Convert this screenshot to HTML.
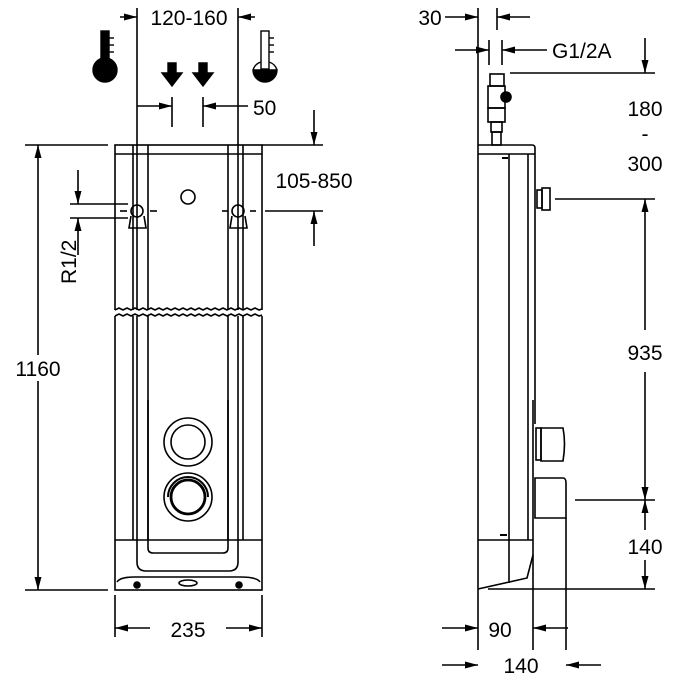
<!DOCTYPE html>
<html><head><meta charset="utf-8"><style>
html,body{margin:0;padding:0;background:#fff;}
svg{display:block;}
text{font-family:"Liberation Sans",sans-serif;font-size:21px;fill:#000;}
</style></head><body>
<svg width="700" height="700" viewBox="0 0 700 700" xmlns="http://www.w3.org/2000/svg">
<defs>
<marker id="a" viewBox="0 0 13 7" refX="13" refY="3.5" markerWidth="13" markerHeight="7" orient="auto" markerUnits="userSpaceOnUse"><path d="M0,0L13,3.5L0,7z" fill="#000"/></marker>
</defs>
<g stroke="#000" stroke-width="1.6" fill="none">
<!-- FRONT VIEW -->
<rect x="115" y="145" width="147" height="445"/>
<line x1="115" y1="154" x2="262" y2="154"/>
<line x1="133" y1="145" x2="133" y2="540"/>
<line x1="137" y1="8" x2="137" y2="540"/>
<line x1="148" y1="145" x2="148" y2="540"/>
<line x1="228" y1="145" x2="228" y2="540"/>
<line x1="238" y1="8" x2="238" y2="540"/>
<line x1="243" y1="145" x2="243" y2="540"/>
<!-- wavy break -->
<rect x="114" y="310" width="150" height="6" fill="#fff" stroke="none"/>
<path d="M115,310 l4,-2 l4,2 l4,-2 l4,2 l4,-2 l4,2 l4,-2 l4,2 l4,-2 l4,2 l4,-2 l4,2 l4,-2 l4,2 l4,-2 l4,2 l4,-2 l4,2 l4,-2 l4,2 l4,-2 l4,2 l4,-2 l4,2 l4,-2 l4,2 l4,-2 l4,2 l4,-2 l4,2 l4,-2 l4,2 l4,-2 l4,2 l4,-2 l4,2 l3,-1"/>
<path d="M115,316 l4,-2 l4,2 l4,-2 l4,2 l4,-2 l4,2 l4,-2 l4,2 l4,-2 l4,2 l4,-2 l4,2 l4,-2 l4,2 l4,-2 l4,2 l4,-2 l4,2 l4,-2 l4,2 l4,-2 l4,2 l4,-2 l4,2 l4,-2 l4,2 l4,-2 l4,2 l4,-2 l4,2 l4,-2 l4,2 l4,-2 l4,2 l4,-2 l4,2 l3,-1"/>
<circle cx="188" cy="197" r="7"/>
<!-- fittings -->
<circle cx="137" cy="211" r="6"/>
<circle cx="238" cy="211" r="6"/>
<path d="M131,216 L129,228 L146,228 L144,216"/>
<path d="M232,216 L230,228 L247,228 L245,216"/>
<line x1="120" y1="211" x2="127" y2="211"/>
<line x1="150" y1="211" x2="157" y2="211"/>
<line x1="222" y1="211" x2="228" y2="211"/>
<line x1="250" y1="211" x2="256" y2="211"/>
<!-- controls -->
<circle cx="188" cy="442" r="24"/>
<circle cx="188" cy="442" r="17"/>
<circle cx="188" cy="497" r="24"/>
<circle cx="188" cy="497" r="17" stroke-width="2.8"/>
<path d="M168,497 A20,20 0 0 1 208,497" stroke-width="2"/>
<!-- lower -->
<line x1="115" y1="540" x2="262" y2="540"/>
<path d="M148,400 L148,548 Q148,553 153,553 L223,553 Q228,553 228,548 L228,400"/>
<path d="M137,540 L137,562 Q137,571 146,571 L229,571 Q238,571 238,562 L238,540"/>
<path d="M117,582 Q120,577 135,577 L240,577 Q257,577 260,582"/>
<ellipse cx="188" cy="583" rx="9" ry="3"/>
<circle cx="137" cy="585" r="3" fill="#000"/>
<circle cx="239" cy="585" r="3" fill="#000"/>
<!-- dims front -->
<line x1="120" y1="17" x2="137" y2="17" marker-end="url(#a)"/>
<line x1="255" y1="17" x2="238" y2="17" marker-end="url(#a)"/>
<line x1="172" y1="97" x2="172" y2="127"/>
<line x1="203" y1="97" x2="203" y2="127"/>
<line x1="137" y1="106" x2="172" y2="106" marker-end="url(#a)"/>
<line x1="248" y1="106" x2="203" y2="106" marker-end="url(#a)"/>
<line x1="108" y1="145" x2="25" y2="145"/>
<line x1="108" y1="590" x2="25" y2="590"/>
<line x1="38" y1="355" x2="38" y2="145" marker-end="url(#a)"/>
<line x1="38" y1="380" x2="38" y2="590" marker-end="url(#a)"/>
<line x1="262" y1="145" x2="323" y2="145"/>
<line x1="265" y1="211" x2="323" y2="211"/>
<line x1="314" y1="110" x2="314" y2="145" marker-end="url(#a)"/>
<line x1="314" y1="246" x2="314" y2="211" marker-end="url(#a)"/>
<line x1="70" y1="204" x2="128" y2="204"/>
<line x1="70" y1="218" x2="128" y2="218"/>
<line x1="78" y1="170" x2="78" y2="204" marker-end="url(#a)"/>
<line x1="78" y1="255" x2="78" y2="218" marker-end="url(#a)"/>
<line x1="115" y1="595" x2="115" y2="637"/>
<line x1="262" y1="595" x2="262" y2="637"/>
<line x1="150" y1="628" x2="115" y2="628" marker-end="url(#a)"/>
<line x1="226" y1="628" x2="262" y2="628" marker-end="url(#a)"/>
<!-- SIDE VIEW -->
<line x1="478" y1="8" x2="478" y2="650"/>
<line x1="497" y1="8" x2="497" y2="30"/>
<line x1="489" y1="40" x2="489" y2="65"/>
<line x1="502" y1="40" x2="502" y2="65"/>
<line x1="445" y1="17" x2="478" y2="17" marker-end="url(#a)"/>
<line x1="530" y1="17" x2="497" y2="17" marker-end="url(#a)"/>
<line x1="455" y1="50" x2="489" y2="50" marker-end="url(#a)"/>
<line x1="547" y1="50" x2="502" y2="50" marker-end="url(#a)"/>
<!-- valve -->
<rect x="490" y="74" width="14" height="12"/>
<rect x="488" y="86" width="17" height="22"/>
<circle cx="506" cy="97" r="5" fill="#000"/>
<rect x="488" y="108" width="17" height="14"/>
<rect x="491" y="122" width="11" height="10"/>
<rect x="492" y="132" width="9" height="13"/>
<!-- body -->
<path d="M478,145 L532,145 Q535,145 535,148 L535,424"/>
<line x1="478" y1="154" x2="535" y2="154"/>
<line x1="509" y1="154" x2="509" y2="540"/>
<line x1="528" y1="154" x2="528" y2="540"/>
<line x1="502" y1="158" x2="508" y2="158" stroke-width="2"/>
<rect x="537" y="190" width="5" height="18"/>
<rect x="542" y="188" width="8" height="22"/>
<line x1="533" y1="400" x2="533" y2="650"/>
<rect x="536" y="428" width="5" height="32"/>
<path d="M541,428 L563,428 Q566,443 563,461 L541,461z"/>
<path d="M535,478 L563,478 Q566,478 566,483 L566,518 L535,518z"/>
<line x1="566" y1="518" x2="566" y2="650"/>
<line x1="478" y1="540" x2="533" y2="540"/>
<line x1="500" y1="535" x2="507" y2="535" stroke-width="2"/>
<path d="M533,555 L527,578 L478,589"/>
<line x1="509" y1="540" x2="509" y2="583"/>
<!-- side dims -->
<line x1="510" y1="73" x2="655" y2="73"/>
<line x1="555" y1="199" x2="655" y2="199"/>
<line x1="575" y1="500" x2="655" y2="500"/>
<line x1="488" y1="589" x2="655" y2="589"/>
<line x1="645" y1="38" x2="645" y2="73" marker-end="url(#a)"/>
<line x1="645" y1="330" x2="645" y2="199" marker-end="url(#a)"/>
<line x1="645" y1="372" x2="645" y2="500" marker-end="url(#a)"/>
<line x1="645" y1="530" x2="645" y2="500" marker-end="url(#a)"/>
<line x1="645" y1="560" x2="645" y2="589" marker-end="url(#a)"/>
<line x1="442" y1="628" x2="478" y2="628" marker-end="url(#a)"/>
<line x1="568" y1="628" x2="533" y2="628" marker-end="url(#a)"/>
<line x1="442" y1="665" x2="478" y2="665" marker-end="url(#a)"/>
<line x1="601" y1="665" x2="566" y2="665" marker-end="url(#a)"/>
</g>
<!-- thermometers -->
<g fill="#000" stroke="#000" stroke-width="1.4">
<rect x="101" y="31" width="8" height="38"/>
<circle cx="105" cy="70" r="12"/>
<line x1="109" y1="38" x2="114" y2="38"/><line x1="109" y1="45" x2="114" y2="45"/><line x1="109" y1="52" x2="114" y2="52"/>
<rect x="261" y="31" width="8" height="38" fill="#fff"/>
<path d="M253,70 A12,12 0 0 0 277,70 Z"/>
<path d="M261,62 A12,12 0 0 0 253,70 M269,62 A12,12 0 0 1 277,70" fill="none"/>
<line x1="269" y1="38" x2="274" y2="38"/><line x1="269" y1="45" x2="274" y2="45"/><line x1="269" y1="52" x2="274" y2="52"/>
<path d="M168,63 L176,63 L176,73 L182,73 L172,86 L162,73 L168,73Z"/>
<path d="M199,63 L207,63 L207,73 L213,73 L203,86 L193,73 L199,73Z"/>
</g>
<rect x="10" y="355" width="56" height="26" fill="#fff"/>
<text x="189" y="25" text-anchor="middle">120-160</text>
<text x="253" y="115">50</text>
<text x="314" y="188" text-anchor="middle">105-850</text>
<text x="38" y="376" text-anchor="middle">1160</text>
<text x="188" y="637" text-anchor="middle">235</text>
<text transform="translate(76,284) rotate(-90)">R1/2</text>
<text x="430" y="25" text-anchor="middle">30</text>
<text x="552" y="58">G1/2A</text>
<text x="645" y="116" text-anchor="middle">180</text>
<text x="645" y="141" text-anchor="middle">-</text>
<text x="645" y="171" text-anchor="middle">300</text>
<text x="645" y="360" text-anchor="middle">935</text>
<text x="645" y="554" text-anchor="middle">140</text>
<text x="500" y="637" text-anchor="middle">90</text>
<text x="521" y="673" text-anchor="middle">140</text>
</svg>
</body></html>
